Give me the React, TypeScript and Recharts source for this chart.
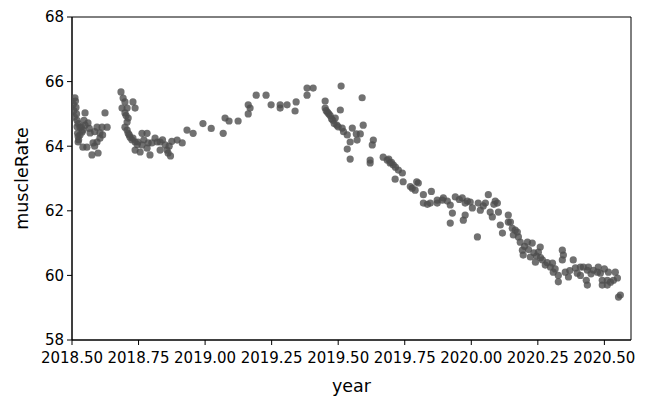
import { ScatterChart, Scatter, XAxis, YAxis, ReferenceArea } from 'recharts';

// [year, muscleRate] readings, grouped by period
const summer2018: [number, number][] = [
  [2018.505, 65.3], [2018.507, 65.1], [2018.509, 64.9], [2018.511, 65.5], [2018.513, 65.4],
  [2018.515, 65.2], [2018.517, 65.0], [2018.519, 64.8], [2018.519, 64.6], [2018.521, 64.4],
  [2018.523, 64.3], [2018.525, 64.2], [2018.523, 64.7], [2018.53, 64.59], [2018.53, 64.35],
  [2018.538, 64.44], [2018.541, 64.5], [2018.549, 64.65], [2018.549, 65.03], [2018.523, 64.13],
  [2018.541, 63.97], [2018.556, 63.97], [2018.56, 64.72], [2018.568, 64.41], [2018.575, 63.73],
  [2018.579, 64.1], [2018.594, 64.13], [2018.594, 64.59], [2018.598, 63.79], [2018.605, 64.25],
  [2018.605, 64.41], [2018.613, 64.59], [2018.624, 65.03], [2018.632, 64.59], [2018.545, 64.8],
  [2018.535, 64.6], [2018.565, 64.55], [2018.585, 64.45], [2018.585, 64.0], [2018.615, 64.35],
];

const autumn2018: [number, number][] = [
  [2018.684, 65.68], [2018.692, 65.49], [2018.699, 65.37], [2018.729, 65.37], [2018.688, 65.18],
  [2018.707, 65.18], [2018.737, 65.18], [2018.699, 65.03], [2018.711, 64.87], [2018.707, 64.75],
  [2018.699, 64.59], [2018.707, 64.5], [2018.711, 64.4], [2018.718, 64.28], [2018.729, 64.25],
  [2018.737, 64.13], [2018.748, 64.13], [2018.763, 64.4], [2018.782, 64.4], [2018.763, 64.04],
  [2018.786, 64.1], [2018.737, 63.88], [2018.756, 63.82], [2018.782, 63.94], [2018.793, 63.73],
  [2018.812, 64.25], [2018.82, 64.13], [2018.831, 64.13], [2018.85, 64.04], [2018.831, 63.88],
  [2018.857, 63.88], [2018.861, 63.79], [2018.895, 64.19], [2018.914, 64.1], [2018.932, 64.5],
  [2018.955, 64.4], [2018.703, 64.95], [2018.715, 64.35], [2018.725, 64.2], [2018.745, 64.05],
  [2018.77, 64.2], [2018.8, 64.1], [2018.84, 64.2], [2018.865, 64.0], [2018.87, 63.7],
  [2018.875, 64.15],
];

const winter2019: [number, number][] = [
  [2018.992, 64.7], [2019.023, 64.55], [2019.068, 64.4], [2019.075, 64.87], [2019.09, 64.78],
  [2019.124, 64.78], [2019.162, 65.0], [2019.169, 65.18], [2019.162, 65.28], [2019.192, 65.58],
  [2019.229, 65.58], [2019.248, 65.28], [2019.282, 65.28], [2019.282, 65.18], [2019.308, 65.28],
  [2019.338, 65.09], [2019.342, 65.37], [2019.383, 65.58], [2019.406, 65.8], [2019.383, 65.8],
  [2019.511, 65.86], [2019.59, 65.5],
];

const late2019: [number, number][] = [
  [2019.451, 65.4], [2019.451, 65.18], [2019.455, 65.1], [2019.46, 65.05], [2019.465, 65.0],
  [2019.47, 64.95], [2019.475, 64.85], [2019.48, 64.8], [2019.489, 64.87], [2019.508, 65.12],
  [2019.485, 64.7], [2019.495, 64.65], [2019.5, 64.6], [2019.515, 64.56], [2019.52, 64.45],
  [2019.534, 64.35], [2019.553, 64.56], [2019.568, 64.38], [2019.583, 64.38], [2019.594, 64.65],
  [2019.545, 64.13], [2019.534, 63.91], [2019.571, 64.19], [2019.545, 63.6], [2019.632, 64.19],
  [2019.628, 64.04], [2019.62, 63.57], [2019.62, 63.48], [2019.669, 63.66], [2019.684, 63.57],
  [2019.695, 63.48], [2019.707, 63.42], [2019.726, 63.26], [2019.69, 63.6], [2019.7, 63.5],
  [2019.715, 63.35], [2019.741, 63.17], [2019.714, 62.98], [2019.744, 62.9], [2019.778, 62.7],
  [2019.801, 62.86], [2019.789, 62.64], [2019.771, 62.75], [2019.795, 62.9], [2019.82, 62.5],
  [2019.85, 62.6], [2019.835, 62.2], [2019.82, 62.24], [2019.846, 62.24], [2019.872, 62.24],
  [2019.872, 62.33], [2019.891, 62.33], [2019.895, 62.4], [2019.921, 62.18], [2019.94, 62.43],
  [2019.929, 61.93], [2019.921, 61.62], [2019.966, 62.4], [2019.977, 62.24], [2019.97, 61.71],
  [2019.977, 61.87], [2019.996, 62.27], [2020.004, 62.09], [2020.026, 62.24], [2020.034, 62.02],
  [2020.053, 62.24], [2020.064, 62.5], [2020.071, 61.96], [2020.079, 61.81], [2020.098, 62.24],
  [2020.102, 61.96], [2020.109, 61.56], [2020.117, 61.31], [2020.023, 61.19], [2020.139, 61.87],
  [2020.139, 61.65], [2019.91, 62.3], [2019.955, 62.35], [2019.985, 62.3], [2020.085, 62.2],
  [2020.09, 62.3], [2020.045, 62.15],
];

const year2020: [number, number][] = [
  [2020.147, 61.65], [2020.154, 61.46], [2020.173, 61.34], [2020.158, 61.25], [2020.177, 61.19],
  [2020.184, 61.03], [2020.211, 61.03], [2020.229, 61.0], [2020.259, 60.88], [2020.192, 60.78],
  [2020.195, 60.63], [2020.222, 60.57], [2020.252, 60.72], [2020.241, 60.41], [2020.267, 60.48],
  [2020.278, 60.32], [2020.297, 60.26], [2020.308, 60.1], [2020.305, 60.38], [2020.342, 60.78],
  [2020.346, 60.63], [2020.342, 60.48], [2020.327, 60.0], [2020.327, 59.8], [2020.353, 60.1],
  [2020.365, 59.95], [2020.383, 60.48], [2020.391, 60.23], [2020.398, 60.07], [2020.41, 60.26],
  [2020.421, 60.26], [2020.436, 60.16], [2020.44, 60.26], [2020.41, 60.0], [2020.432, 59.85],
  [2020.436, 59.7], [2020.459, 60.16], [2020.477, 60.26], [2020.474, 60.1], [2020.485, 60.07],
  [2020.492, 59.85], [2020.515, 60.1], [2020.511, 59.85], [2020.523, 59.79], [2020.541, 60.1],
  [2020.534, 59.85], [2020.549, 59.92], [2020.511, 59.7], [2020.492, 59.7], [2020.553, 59.33],
  [2020.56, 59.39], [2020.165, 61.4], [2020.2, 60.9], [2020.215, 60.8], [2020.235, 60.7],
  [2020.245, 60.6], [2020.26, 60.55], [2020.285, 60.4], [2020.315, 60.2], [2020.37, 60.15],
  [2020.45, 60.05], [2020.5, 60.2],
];

const xTicks = [2018.5, 2018.75, 2019.0, 2019.25, 2019.5, 2019.75, 2020.0, 2020.25, 2020.5];
const yTicks = [58, 60, 62, 64, 66, 68];

const points = [...summer2018, ...autumn2018, ...winter2019, ...late2019, ...year2020].map(
  ([year, muscleRate]) => ({ year, muscleRate })
);

const Dot = (props: any) => (
  <circle cx={props.cx} cy={props.cy} r={3.6} fill="#4e4e4e" fillOpacity={0.8} />
);

const tickStyle = { fill: '#000', fontSize: 15, fontFamily: 'DejaVu Sans' };

export default function App() {
  return (
    <div style={{ position: 'fixed', left: 0, top: 0, background: '#fff' }}>
      <ScatterChart width={646} height={398} margin={{ top: 17, right: 15, bottom: 6, left: 22 }}>
        <XAxis
          type="number"
          dataKey="year"
          domain={[2018.5, 2020.6]}
          allowDataOverflow
          ticks={xTicks}
          tickFormatter={(v: number) => v.toFixed(2)}
          tick={tickStyle}
          tickSize={5}
          tickMargin={7}
          stroke="#000"
          height={52}
          interval={0}
          label={{ value: 'year', position: 'insideBottom', offset: 0, fill: '#000', fontSize: 17.5, fontFamily: 'DejaVu Sans' }}
        />
        <YAxis
          type="number"
          dataKey="muscleRate"
          domain={[58, 68]}
          ticks={yTicks}
          tick={tickStyle}
          tickSize={5}
          tickMargin={3}
          stroke="#000"
          width={50}
          label={{ value: 'muscleRate', angle: -90, position: 'insideLeft', offset: 0, fill: '#000', fontSize: 17.5, fontFamily: 'DejaVu Sans', style: { textAnchor: 'middle' } }}
        />
        <ReferenceArea x1={2018.5} x2={2020.6} y1={58} y2={68} fill="none" stroke="#000" strokeWidth={1} ifOverflow="extendDomain" />
        <Scatter data={points} shape={Dot} isAnimationActive={false} />
      </ScatterChart>
    </div>
  );
}
